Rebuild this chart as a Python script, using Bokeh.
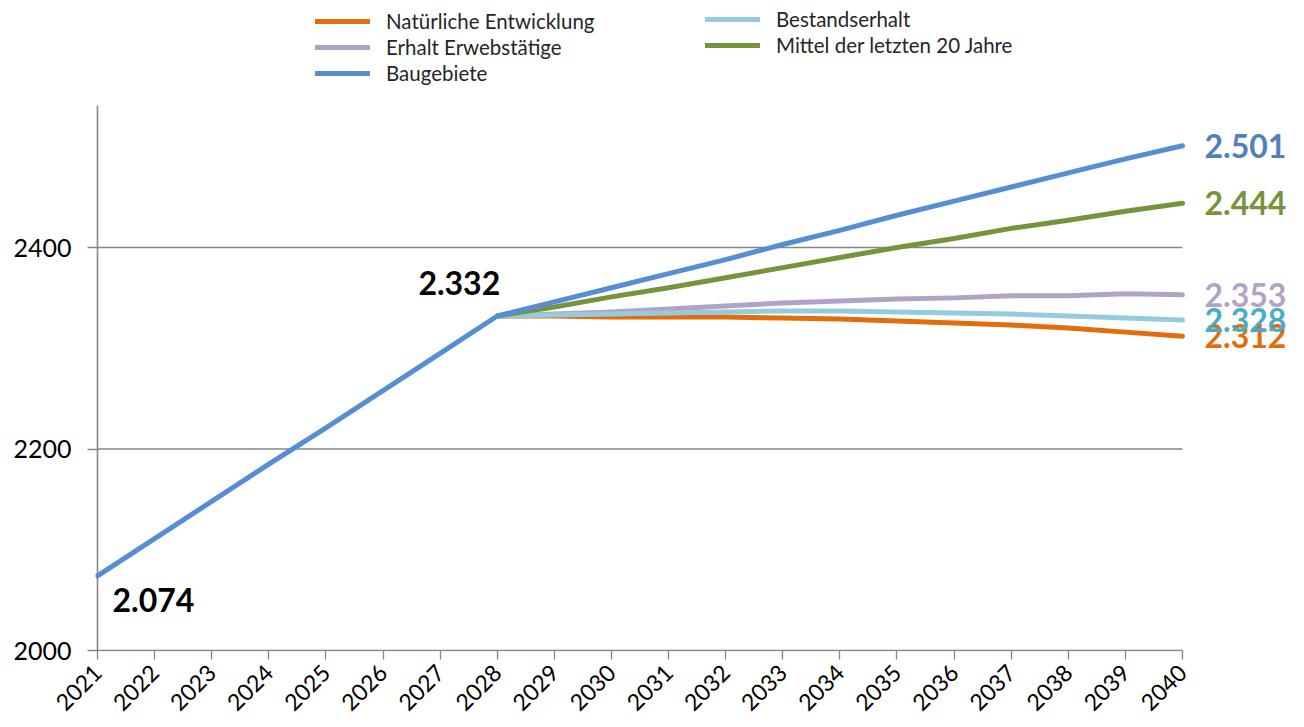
import math
from bokeh.plotting import figure
from bokeh.models import Legend, LegendItem, Label, FixedTicker, Range1d
from bokeh.embed import file_html
from bokeh.resources import INLINE

# ---- data ----
years_all = list(range(2021, 2041))
years_proj = list(range(2028, 2041))

baugebiete = [2074, 2111, 2148, 2185, 2221, 2258, 2295, 2332,
              2346, 2360, 2374, 2388, 2403, 2417, 2432, 2446, 2460, 2474, 2488, 2501]
natuerlich = [2332, 2332, 2331, 2331, 2331, 2330, 2329, 2327, 2325, 2323, 2320, 2316, 2312]
erwerb = [2332, 2334, 2336, 2339, 2342, 2345, 2347, 2349, 2350, 2352, 2352, 2354, 2353]
bestand = [2332, 2333, 2334, 2335, 2336, 2337, 2337, 2336, 2335, 2334, 2332, 2330, 2328]
mittel = [2332, 2341, 2351, 2360, 2370, 2380, 2390, 2400, 2409, 2419, 2427, 2436, 2444]

series_names = ["Natürliche Entwicklung", "Erhalt Erwebstätige", "Baugebiete",
                "Bestandserhalt", "Mittel der letzten 20 Jahre"]
line_colors = ["#E46C0A", "#B3A2C7", "#558ED5", "#93CDDD", "#77933C"]
label_colors = ["#E46C0A", "#B3A2C7", "#4F81BD", "#4BACC6", "#77933C"]
end_labels = ["2.312", "2.353", "2.501", "2.328", "2.444"]
start_label = "2.074"
mid_label = "2.332"
y_ticks = [2000, 2200, 2400]
y_axis_top = 2541

FONT = "Lato"
GRAY = "#868686"

W, H = 1304, 727
FRAME_LEFT = 95          # canvas px
X0_PX = 97               # px of first year
X1_PX = 1182             # px of last year
Y0_PX = 650              # px of y_ticks[0]
FRAME_BOTTOM = 651

px_per_year = (X1_PX - X0_PX) / (years_all[-1] - years_all[0])
x_start = years_all[0] - (X0_PX - FRAME_LEFT) / px_per_year
x_end = years_all[-1] + (W - X1_PX) / px_per_year
px_per_unit = (650 - 247) / (y_ticks[2] - y_ticks[0])
y_start = y_ticks[0] - (FRAME_BOTTOM - Y0_PX) / px_per_unit
y_end = y_ticks[0] + Y0_PX / px_per_unit

p = figure(width=W, height=H, output_backend="svg", toolbar_location=None,
           x_range=Range1d(x_start, x_end), y_range=Range1d(y_start, y_end),
           min_border_left=FRAME_LEFT, min_border_right=0, min_border_top=0,
           min_border_bottom=H - FRAME_BOTTOM)
p.outline_line_color = None
p.xgrid.grid_line_color = None
p.ygrid.grid_line_color = None

p.yaxis.ticker = FixedTicker(ticks=y_ticks)
p.yaxis.axis_line_color = None
p.yaxis.major_tick_line_color = GRAY
p.yaxis.major_tick_line_width = 1.3
p.yaxis.major_tick_out = 8
p.yaxis.major_tick_in = 2
p.yaxis.minor_tick_line_color = None
p.yaxis.major_label_text_font = FONT
p.yaxis.major_label_text_font_size = "25px"
p.yaxis.major_label_text_color = "#000000"
p.yaxis.major_label_standoff = 16

p.xaxis.ticker = FixedTicker(ticks=years_all)
p.xaxis.axis_line_color = None
p.xaxis.major_tick_line_color = GRAY
p.xaxis.major_tick_line_width = 1.3
p.xaxis.major_tick_out = 8
p.xaxis.major_tick_in = 1
p.xaxis.minor_tick_line_color = None
p.xaxis.major_label_orientation = math.pi / 4
p.xaxis.major_label_text_font = FONT
p.xaxis.major_label_text_font_size = "23px"
p.xaxis.major_label_text_color = "#000000"
p.xaxis.major_label_standoff = 9

# gridlines and axis lines limited to the data span
grid_vals = [t for t in y_ticks if t > y_ticks[0]]
p.segment(x0=[years_all[0]] * len(grid_vals), x1=[years_all[-1]] * len(grid_vals),
          y0=grid_vals, y1=grid_vals, line_color=GRAY, line_width=1.3)
p.segment(x0=[years_all[0]], x1=[years_all[-1]], y0=[y_ticks[0]], y1=[y_ticks[0]],
          line_color=GRAY, line_width=1.6)
p.segment(x0=[years_all[0]], x1=[years_all[0]], y0=[y_ticks[0]], y1=[y_axis_top],
          line_color=GRAY, line_width=1.6)

# lines
kw = dict(line_width=5, line_cap="round", line_join="round")
r_nat = p.line(years_proj, natuerlich, line_color=line_colors[0], **kw)
r_erw = p.line(years_proj, erwerb, line_color=line_colors[1], **kw)
r_bes = p.line(years_proj, bestand, line_color=line_colors[3], **kw)
r_mit = p.line(years_proj, mittel, line_color=line_colors[4], **kw)
r_bau = p.line(years_all, baugebiete, line_color=line_colors[2], **kw)

def style_legend(lg):
    lg.background_fill_alpha = 0
    lg.border_line_color = None
    lg.padding = 0
    lg.margin = 0
    lg.spacing = 2
    lg.glyph_width = 55
    lg.glyph_height = 20
    lg.label_height = 20
    lg.label_standoff = 16
    lg.label_text_font = FONT
    lg.label_text_font_size = "20.5px"
    lg.label_text_color = "#262626"

leg1 = Legend(items=[LegendItem(label=series_names[0], renderers=[r_nat]),
                     LegendItem(label=series_names[1], renderers=[r_erw]),
                     LegendItem(label=series_names[2], renderers=[r_bau])],
              location=(315 - FRAME_LEFT, FRAME_BOTTOM - 85))
leg2 = Legend(items=[LegendItem(label=series_names[3], renderers=[r_bes]),
                     LegendItem(label=series_names[4], renderers=[r_mit])],
              location=(705 - FRAME_LEFT, FRAME_BOTTOM - 57))
style_legend(leg1)
style_legend(leg2)
p.add_layout(leg1, "center")
p.add_layout(leg2, "center")

# end labels
end_vals = [natuerlich[-1], erwerb[-1], baugebiete[-1], bestand[-1], mittel[-1]]
for v, t, c in zip(end_vals, end_labels, label_colors):
    p.add_layout(Label(x=years_all[-1], y=v, x_offset=22, text=t, text_color=c,
                       text_font=FONT, text_font_style="bold", text_font_size="32px",
                       text_baseline="middle", text_align="left"))

p.add_layout(Label(x=years_all[7], y=baugebiete[7], x_offset=3, y_offset=33, text=mid_label,
                   text_color="#000000", text_font=FONT, text_font_style="bold",
                   text_font_size="32px", text_baseline="middle", text_align="right"))
p.add_layout(Label(x=years_all[0], y=baugebiete[0], x_offset=15, y_offset=-24, text=start_label,
                   text_color="#000000", text_font=FONT, text_font_style="bold",
                   text_font_size="32px", text_baseline="middle", text_align="left"))

open("out.html", "w").write(file_html(p, INLINE))
